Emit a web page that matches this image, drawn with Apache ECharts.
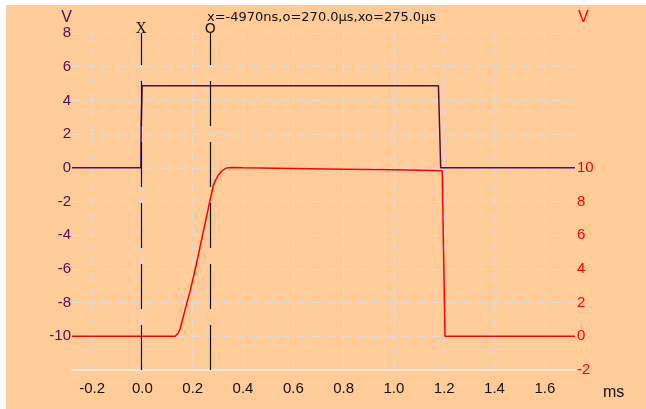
<!DOCTYPE html>
<html>
<head>
<meta charset="utf-8">
<script src="https://cdn.jsdelivr.net/npm/echarts@6/dist/echarts.min.js"></script>
<style>
  html, body { margin: 0; padding: 0; background: #ffffff; }
  #scope { position: absolute; left: 6px; top: 5px; width: 640px; height: 404px; background: #FFCC99; }
</style>
</head>
<body>
<div id="scope"></div>
<script>
// Time axis (ms) and tick labels
const timeTicks = [-0.2, 0.0, 0.2, 0.4, 0.6, 0.8, 1.0, 1.2, 1.4, 1.6];

// Channel 1 (left axis, V): gate pulse  [time ms, volts]
const pulseTime  = [-0.28, -0.006, -0.005, -0.001, 1.177, 1.186, 1.72];
const pulseVolts = [0, 0, 2.5, 4.87, 4.87, 0, 0];

// Channel 2 (right axis, V): response  [time ms, volts]
const respTime  = [-0.28, 0.130, 0.137, 0.143, 0.150, 0.157, 0.163, 0.169, 0.179, 0.189,
                   0.199, 0.209, 0.219, 0.229, 0.239, 0.249, 0.259, 0.269, 0.276, 0.282,
                   0.292, 0.302, 0.315, 0.329, 0.342, 0.355, 0.40, 0.60, 0.80, 1.00, 1.192, 1.203, 1.72];
const respVolts = [0, 0, 0.05, 0.2, 0.46, 0.85, 1.2, 1.54, 2.1, 2.65,
                   3.28, 3.92, 4.6, 5.31, 6.0, 6.69, 7.38, 8.08, 8.55, 8.97,
                   9.3, 9.56, 9.8, 9.96, 10.01, 10.02, 10.0, 9.96, 9.92, 9.88, 9.82, 0, 0];

// Cursor positions (ms)
const cursorX = -0.00497;
const cursorO = 0.270;

const pulseData = pulseTime.map((t, i) => [t, pulseVolts[i]]);
const respData = respTime.map((t, i) => [t, respVolts[i]]);

const readout = 'x=' + Math.round(cursorX * 1e6) + 'ns,o=' + (cursorO * 1000).toFixed(1) +
  'µs,xo=' + ((cursorO - cursorX) * 1000).toFixed(1) + 'µs';

const purple = '#4B0F55';
const grid = { type: [8, 7], color: '#dcdcdc', width: 1 };
const labelFont = 'Liberation Sans, Arial, sans-serif';

const chart = echarts.init(document.getElementById('scope'), null, { renderer: 'canvas' });
chart.setOption({
  animation: false,
  title: {
    text: readout,
    left: 201, top: 6, padding: 0,
    textStyle: { fontFamily: 'DejaVu Sans', fontSize: 13, fontWeight: 'normal', color: '#111' }
  },
  grid: { left: 66, top: 28, right: 71, bottom: 39, containLabel: false },
  xAxis: {
    type: 'value', min: -0.28, max: 1.72,
    name: 'ms', nameLocation: 'end', nameGap: 28,
    nameTextStyle: { fontFamily: labelFont, fontSize: 16, color: '#111', align: 'left', verticalAlign: 'top', padding: [15, 0, 0, 0] },
    axisLine: { show: true, onZero: false, lineStyle: { color: '#f0e6dc', width: 2 } },
    axisTick: { show: true, length: 0, customValues: timeTicks },
    axisLabel: { customValues: timeTicks, formatter: v => v.toFixed(1), fontFamily: labelFont, fontSize: 15, color: '#111', margin: 11 },
    splitLine: { show: true, lineStyle: grid }
  },
  yAxis: [
    {
      type: 'value', min: -12, max: 8, interval: 2, position: 'left',
      name: 'V', nameLocation: 'end', nameGap: 7,
      nameTextStyle: { fontFamily: labelFont, fontSize: 16, color: purple, align: 'right' },
      axisLine: { show: false, onZero: false }, axisTick: { show: false },
      axisLabel: { formatter: v => (v <= -12 ? '' : String(v)), fontFamily: labelFont, fontSize: 15, color: purple, margin: 1 },
      splitLine: { show: true, lineStyle: grid }
    },
    {
      type: 'value', min: -2, max: 18, interval: 2, position: 'right',
      name: 'V', nameLocation: 'end', nameGap: 7,
      nameTextStyle: { fontFamily: labelFont, fontSize: 16, color: '#ff0000', align: 'left', padding: [0, 0, 0, 3] },
      axisLine: { show: false, onZero: false }, axisTick: { show: false },
      axisLabel: { formatter: v => (v > 10 ? '' : String(v)), fontFamily: labelFont, fontSize: 15, color: '#ff0000', margin: 2 },
      splitLine: { show: false }
    }
  ],
  series: [
    {
      name: 'CH2', type: 'line', yAxisIndex: 1, data: respData,
      showSymbol: false, symbol: 'none',
      lineStyle: { color: '#ff0000', width: 1.5 }, z: 2
    },
    {
      name: 'CH1', type: 'line', yAxisIndex: 0, data: pulseData,
      showSymbol: false, symbol: 'none',
      lineStyle: { color: purple, width: 1.5 }, z: 3,
      markLine: {
        silent: true, symbol: 'none', precision: 5,
        lineStyle: { color: '#111', width: 1.2, type: [45, 16] },
        label: { show: true, position: 'end', distance: -3, color: '#111', fontSize: 13 },
        data: [
          { xAxis: cursorX, label: { formatter: 'X', fontFamily: 'DejaVu Serif', fontSize: 14 } },
          { xAxis: cursorO, label: { formatter: 'O', fontFamily: 'DejaVu Sans', fontSize: 14 } }
        ]
      }
    }
  ]
});
</script>
</body>
</html>
